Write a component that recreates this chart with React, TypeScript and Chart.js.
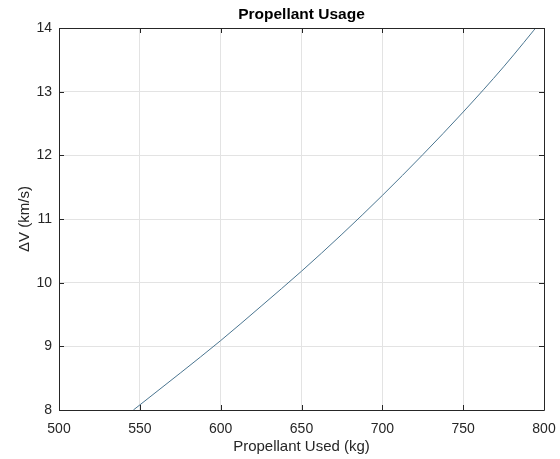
import React, { useEffect, useRef } from "react";
import { Chart, registerables } from "chart.js";

Chart.register(...registerables);

const propellantUsed = [546, 575, 600, 625, 650, 675, 700, 725, 750, 775, 800];
const deltaV = [8.0, 8.58, 9.09, 9.63, 10.18, 10.76, 11.37, 12.01, 12.68, 13.39, 14.16];
const xTicks = [500, 550, 600, 650, 700, 750, 800];
const yTicks = [8, 9, 10, 11, 12, 13, 14];
const titleText = "Propellant Usage";
const xLabel = "Propellant Used (kg)";
const yLabel = "\u0394V (km/s)";

const FONT = "'Liberation Sans', Arial, Helvetica, sans-serif";
const AXIS = "#262626";

const framePlugin = {
  id: "matlabFrame",
  afterDraw(chart: any) {
    const { ctx, chartArea } = chart;
    const { left, right, top, bottom } = chartArea;
    const xs = chart.scales.x;
    const ys = chart.scales.y;
    ctx.save();
    ctx.strokeStyle = AXIS;
    ctx.lineWidth = 1;
    ctx.beginPath();
    ctx.rect(Math.round(left) + 0.5, Math.round(top) + 0.5, Math.round(right - left), Math.round(bottom - top));
    ctx.stroke();
    const tl = 5;
    ctx.beginPath();
    xTicks.forEach((v) => {
      const px = Math.round(xs.getPixelForValue(v)) + 0.5;
      ctx.moveTo(px, bottom);
      ctx.lineTo(px, bottom - tl);
      ctx.moveTo(px, top);
      ctx.lineTo(px, top + tl);
    });
    yTicks.forEach((v) => {
      const py = Math.round(ys.getPixelForValue(v)) + 0.5;
      ctx.moveTo(left, py);
      ctx.lineTo(left + tl, py);
      ctx.moveTo(right, py);
      ctx.lineTo(right - tl, py);
    });
    ctx.stroke();
    ctx.fillStyle = "#000000";
    ctx.font = `bold 15.5px ${FONT}`;
    ctx.textAlign = "center";
    ctx.textBaseline = "middle";
    ctx.fillText(titleText, (left + right) / 2, 15);
    ctx.restore();
  },
};

export default function App() {
  const canvasRef = useRef<HTMLCanvasElement | null>(null);

  useEffect(() => {
    document.body.style.margin = "0";
    const canvas = canvasRef.current;
    if (!canvas) return;
    const chart = new Chart(canvas, {
      type: "line",
      data: {
        datasets: [
          {
            data: propellantUsed.map((x, i) => ({ x, y: deltaV[i] })),
            borderColor: "#4a7590",
            borderWidth: 1,
            pointRadius: 0,
            cubicInterpolationMode: "monotone",
            fill: false,
          },
        ],
      },
      options: {
        animation: false,
        responsive: true,
        maintainAspectRatio: false,
        layout: { padding: { top: 28, right: 16, left: 0, bottom: 0 } },
        plugins: {
          legend: { display: false },
          title: { display: false },
          tooltip: { enabled: false },
        },
        scales: {
          x: {
            type: "linear",
            min: 500,
            max: 800,
            afterFit: (s: any) => {
              s.height = 49;
              s.paddingLeft = 0;
              s.paddingRight = 0;
            },
            afterBuildTicks: (s: any) => {
              s.ticks = xTicks.map((v) => ({ value: v }));
            },
            grid: { color: "#e3e3e3", drawTicks: false },
            border: { display: false },
            ticks: {
              padding: 11,
              color: AXIS,
              font: { family: FONT, size: 14 },
              maxRotation: 0,
              autoSkip: false,
            },
            title: {
              display: true,
              text: xLabel,
              color: AXIS,
              font: { family: FONT, size: 15 },
              padding: { top: 0, bottom: 3 },
            },
          },
          y: {
            type: "linear",
            min: 8,
            max: 14,
            afterFit: (s: any) => {
              s.width = 59;
              s.paddingTop = 0;
              s.paddingBottom = 0;
            },
            afterBuildTicks: (s: any) => {
              s.ticks = yTicks.map((v) => ({ value: v }));
            },
            grid: { color: "#e3e3e3", drawTicks: false },
            border: { display: false },
            ticks: {
              padding: 7,
              color: AXIS,
              font: { family: FONT, size: 14 },
              autoSkip: false,
            },
            title: {
              display: true,
              text: yLabel,
              color: AXIS,
              font: { family: FONT, size: 15 },
              padding: { top: 16, bottom: 0 },
            },
          },
        },
      },
      plugins: [framePlugin],
    });
    return () => chart.destroy();
  }, []);

  return (
    <div style={{ width: 560, height: 459, position: "relative", background: "#ffffff" }}>
      <canvas ref={canvasRef} />
    </div>
  );
}
